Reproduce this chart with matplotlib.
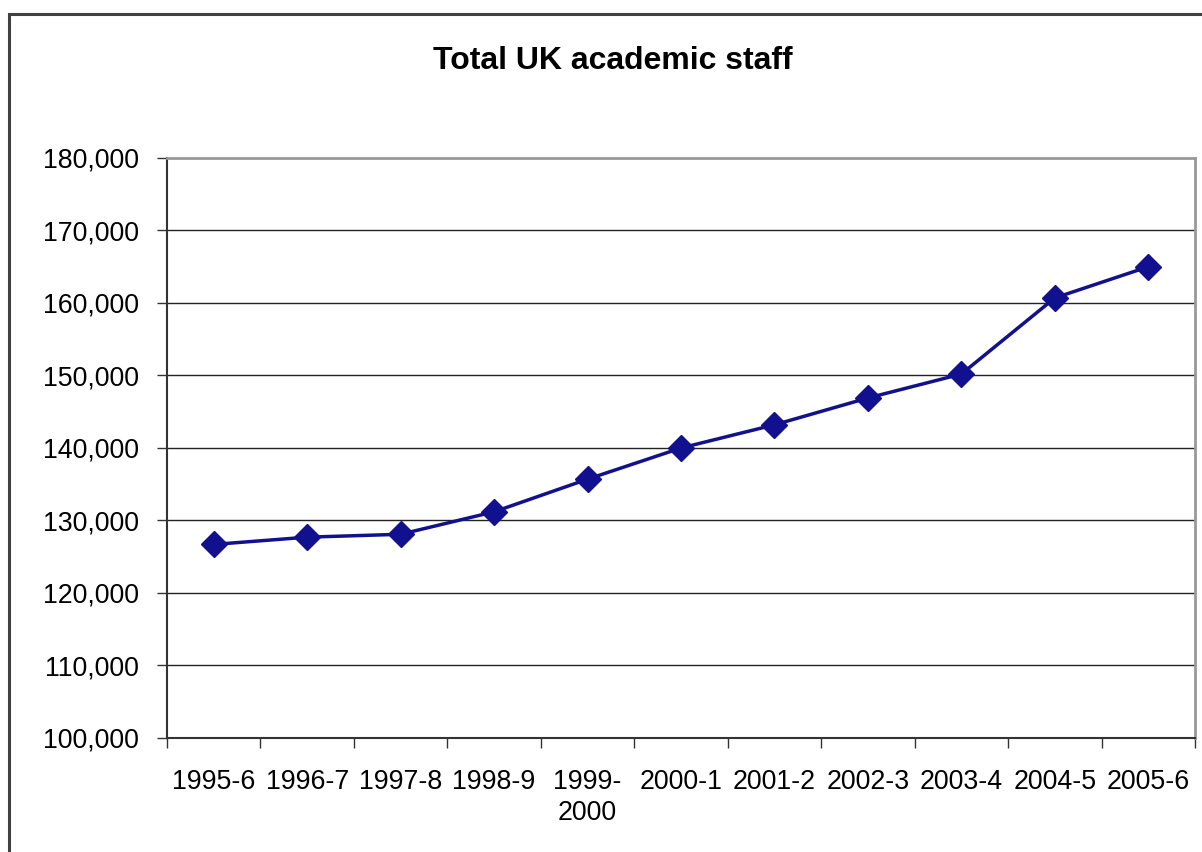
import matplotlib.pyplot as plt
from matplotlib.patches import Rectangle
from matplotlib.ticker import FuncFormatter, FixedLocator
import numpy as np

plt.rcParams['font.family'] = ['Liberation Sans', 'DejaVu Sans']

years = ['1995-6', '1996-7', '1997-8', '1998-9', '1999-\n2000', '2000-1',
         '2001-2', '2002-3', '2003-4', '2004-5', '2005-6']
staff = [126700, 127700, 128100, 131200, 135700, 140000,
         143200, 146900, 150200, 160700, 165000]

W, H = 1202, 852
fig = plt.figure(figsize=(W / 100, H / 100), dpi=100)

# outer chart frame (runs off the right and bottom edges)
fig.patches.append(Rectangle((9 / W, -0.05), 1.1, 1 - 14 / H + 0.05,
                             transform=fig.transFigure, fill=False,
                             edgecolor='#404040', linewidth=2.2))

ax = fig.add_axes([167 / W, 1 - 738 / H, (1195 - 167) / W, (738 - 158) / H])

x = np.arange(len(years))
ax.plot(x, staff, color='#111190', linewidth=2.5, marker='D', markersize=13,
        markerfacecolor='#111190', markeredgecolor='#111190', zorder=3)

ax.set_xlim(-0.5, len(years) - 0.5)
ax.set_ylim(100000, 180000)
ax.set_yticks(np.arange(100000, 180001, 10000))
ax.yaxis.set_major_formatter(FuncFormatter(lambda v, p: f'{int(v):,}'))
for v in range(110000, 180000, 10000):
    ax.axhline(v, color='#222222', linewidth=1, zorder=1)

# category labels centred, ticks on the boundaries
ax.set_xticks(x)
ax.set_xticklabels(years, fontsize=19.3, linespacing=1.25, va='top')
ax.tick_params(axis='x', which='major', length=0, pad=22)
ax.xaxis.set_minor_locator(FixedLocator(np.arange(-0.5, len(years), 1)))
ax.tick_params(axis='x', which='minor', length=7, width=1, color='#333333',
               direction='out')
ax.tick_params(axis='y', labelsize=19.3, length=7, width=1, color='#333333',
               direction='out', pad=13)

for s in ['left', 'bottom']:
    ax.spines[s].set_color('#333333')
    ax.spines[s].set_linewidth(1.5)
for s in ['top', 'right']:
    ax.spines[s].set_color('#999999')
    ax.spines[s].set_linewidth(2)

fig.text(612.5 / W, 1 - 61 / H, 'Total UK academic staff',
         ha='center', va='center', fontsize=23, fontweight='bold')

fig.savefig('out.png', dpi=100, facecolor='white')
